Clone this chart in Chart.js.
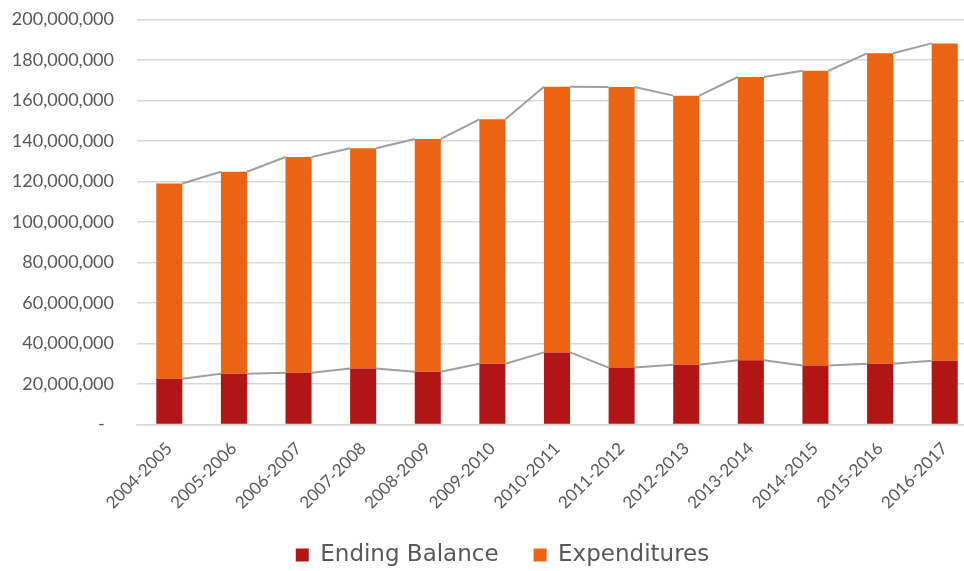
<!DOCTYPE html>
<html><head><meta charset="utf-8">
<script src="https://cdn.jsdelivr.net/npm/chart.js@4/dist/chart.umd.min.js"></script>
<style>html,body{margin:0;padding:0;background:#fff;overflow:hidden}#wrap{width:1004px;height:571px}</style>
</head><body><div id="wrap"><canvas id="c" width="1004" height="571"></canvas></div>
<script>
const categories = ['2004-2005','2005-2006','2006-2007','2007-2008','2008-2009','2009-2010','2010-2011','2011-2012','2012-2013','2013-2014','2014-2015','2015-2016','2016-2017'];
const endingBalance = [22600000,25100000,25600000,27600000,26100000,30000000,35600000,28100000,29500000,31700000,29100000,30000000,31500000];
const expenditures = [96400000,99700000,106500000,108800000,114900000,120700000,131200000,138600000,132900000,139900000,145600000,153300000,156700000];
const yMin = 0, yMax = 200000000, yStep = 20000000;

const seriesLines = {
  id: 'seriesLines',
  beforeDatasetsDraw(chart) {
    const ctx = chart.ctx;
    ctx.save();
    ctx.strokeStyle = '#a0a0a0';
    ctx.lineWidth = 2;
    chart.data.datasets.forEach((ds, i) => {
      const els = chart.getDatasetMeta(i).data;
      ctx.beginPath();
      for (let k = 0; k < els.length - 1; k++) {
        const a = els[k].getProps(['x','y','width'], true);
        const b = els[k+1].getProps(['x','y','width'], true);
        ctx.moveTo(a.x + a.width/2, a.y);
        ctx.lineTo(b.x - b.width/2, b.y);
      }
      ctx.stroke();
    });
    ctx.restore();
  }
};

// centre the legend the way the original does (shifted right of the canvas centre)
const legendShift = {
  id: 'legendShift',
  afterLayout(chart) { if (chart.legend) { chart.legend.left += 28; } }
};

const tickColor = '#595959';
new Chart(document.getElementById('c'), {
  type: 'bar',
  data: {
    labels: categories,
    datasets: [
      { label: 'Ending Balance', data: endingBalance, backgroundColor: '#B11516', categoryPercentage: 0.403, barPercentage: 1 },
      { label: 'Expenditures', data: expenditures, backgroundColor: '#EA6413', categoryPercentage: 0.403, barPercentage: 1 }
    ]
  },
  options: {
    responsive: false,
    animation: false,
    layout: { padding: { top: 19.5, right: 27, left: 0, bottom: -5.5 } },
    plugins: {
      tooltip: { enabled: false },
      legend: {
        position: 'bottom',
        labels: { color: tickColor, font: { family: 'DejaVu Sans', size: 23 }, boxWidth: 13, boxHeight: 13, padding: 35 }
      }
    },
    scales: {
      x: {
        stacked: true,
        afterFit(s) { s.height = 84; },
        grid: { display: false, drawTicks: false },
        border: { display: true, color: '#d9d9d9', width: 1.5 },
        ticks: { color: tickColor, font: { family: 'Lato', size: 17 }, minRotation: 45, maxRotation: 45, padding: 14 }
      },
      y: {
        stacked: true,
        min: yMin, max: yMax,
        afterFit(s) { s.width = 137; s.paddingTop = 0; s.paddingBottom = 0; },
        grid: { color: '#d9d9d9', lineWidth: 1.5, drawTicks: false },
        border: { display: false },
        ticks: {
          stepSize: yStep, color: tickColor, font: { family: 'Lato', size: 18 }, padding: 23,
          callback: v => v === 0 ? '-  ' : Number(v).toLocaleString('en-US')
        }
      }
    }
  },
  plugins: [seriesLines, legendShift]
});
</script></body></html>
